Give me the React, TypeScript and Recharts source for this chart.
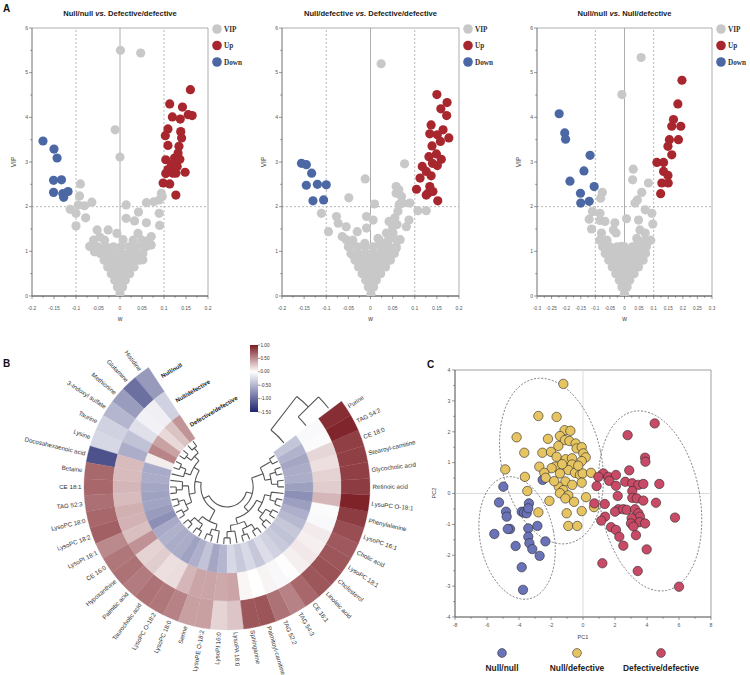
import React from 'react';
import {
  ScatterChart,
  Scatter,
  XAxis,
  YAxis,
  ReferenceLine,
  ReferenceArea,
  ReferenceDot,
  PieChart,
  Pie,
  Cell,
  Customized,
} from 'recharts';

const SANS = '"Liberation Sans", Arial, sans-serif';
const SERIF = '"Liberation Serif", "Times New Roman", serif';

const GRAY = '#c8c8c8';
const RED = '#a8262e';
const BLUE = '#4c68a4';

// ---------- Panel A: [w, VIP] ----------
const grayA1 = [
  [0.001, 5.5], [0.047, 5.44], [-0.011, 3.72], [0, 3.11], [-0.09, 2.51], [-0.092, 2.24], [-0.064, 2.1],
  [-0.113, 1.94], [-0.1, 1.85], [-0.1, 1.57], [-0.078, 1.75], [-0.081, 2.02], [-0.052, 1.48], [-0.027, 1.48],
  [-0.046, 1.32], [0.014, 2.04], [0.014, 1.74], [0.033, 1.68], [0.042, 1.88], [0.06, 2.09], [0.077, 2.11],
  [0.089, 2.15], [0.096, 2.23], [0.094, 2.3], [0.089, 1.85], [0.09, 1.58], [0.06, 1.64], [0.041, 1.4],
  [0.071, 1.33], [-0.007, 1.4], [-0.069, 1.11], [-0.058, 0.99], [-0.042, 0.96], [-0.031, 1.07], [0.06, 1.11],
  [0.071, 1.14], [0.052, 0.81], [0.026, 1.11], [0.007, 1.26], [-0.095, 2.04],
  [0, 0.05], [-0.006, 0.2], [0.006, 0.2], [-0.012, 0.35], [0, 0.35], [0.012, 0.35], [-0.02, 0.5], [-0.006, 0.5],
  [0.008, 0.5], [0.022, 0.5], [-0.028, 0.65], [-0.012, 0.65], [0.004, 0.65], [0.018, 0.65], [0.032, 0.65],
  [-0.036, 0.8], [-0.02, 0.8], [-0.004, 0.8], [0.012, 0.8], [0.028, 0.8], [0.044, 0.8], [-0.045, 0.95],
  [-0.028, 0.95], [-0.012, 0.95], [0.004, 0.95], [0.02, 0.95], [0.036, 0.95], [0.052, 0.95], [-0.05, 1.1],
  [-0.032, 1.1], [-0.015, 1.1], [0.002, 1.1], [0.02, 1.1], [0.038, 1.1], [0.056, 1.1], [-0.06, 1.25],
  [-0.035, 1.25], [0.03, 1.25], [0.05, 1.25], [0.065, 1.25],
];
const upA1 = [
  [0.113, 4.3], [0.16, 4.62], [0.142, 4.23], [0.119, 4.01], [0.137, 3.96], [0.155, 4.06], [0.164, 4.04],
  [0.109, 3.74], [0.103, 3.59], [0.138, 3.68], [0.14, 3.54], [0.109, 3.37], [0.134, 3.35], [0.132, 3.2],
  [0.104, 3.05], [0.124, 3.09], [0.117, 2.94], [0.109, 2.83], [0.104, 2.74], [0.12, 2.75], [0.127, 2.75],
  [0.148, 2.77], [0.098, 2.53], [0.113, 2.51], [0.127, 2.26], [0.13, 2.9], [0.136, 3.06],
];
const downA1 = [
  [-0.175, 3.47], [-0.15, 3.29], [-0.143, 3.09], [-0.151, 2.59], [-0.133, 2.6], [-0.151, 2.32],
  [-0.128, 2.21], [-0.118, 2.34], [-0.13, 2.29],
];

const grayA2 = [
  [0.024, 5.2], [0.077, 2.96], [-0.012, 2.62], [-0.049, 2.2], [0.009, 2.06], [-0.111, 1.85], [-0.095, 1.44],
  [-0.077, 1.78], [-0.073, 1.63], [-0.055, 1.55], [-0.03, 1.44], [-0.009, 1.78], [0.006, 1.7], [-0.009, 1.52],
  [-0.013, 1.18], [-0.055, 1.26], [-0.047, 1.11], [-0.064, 1.33], [0.058, 2.45], [0.064, 2.38], [0.07, 2.23],
  [0.058, 2.3], [0.073, 2.08], [0.089, 2.08], [0.107, 1.91], [0.126, 1.91], [0.087, 1.7], [0.081, 1.55],
  [0.067, 1.26], [0.051, 1.41], [0.042, 1.67], [0.036, 1.41], [-0.04, 0.92], [0.024, 0.99], [-0.024, 0.73],
  [-0.009, 0.81], [0.013, 0.84], [0.047, 0.96], [0.058, 1.07], [0.017, 1.29], [0.028, 1.14],
  [0.06, 1.6], [0.055, 1.75], [0.062, 1.9], [0.065, 2.05], [0.05, 1.55], [0.045, 1.3],
  [0.001, 0.05], [-0.005, 0.2], [0.007, 0.2], [-0.011, 0.35], [0.001, 0.35], [0.013, 0.35], [-0.019, 0.5],
  [-0.005, 0.5], [0.009, 0.5], [0.023, 0.5], [-0.027, 0.65], [-0.011, 0.65], [0.005, 0.65], [0.02, 0.65],
  [0.034, 0.65], [-0.035, 0.8], [-0.019, 0.8], [-0.003, 0.8], [0.013, 0.8], [0.029, 0.8], [0.045, 0.8],
  [-0.044, 0.95], [-0.027, 0.95], [-0.01, 0.95], [0.006, 0.95], [0.022, 0.95], [0.038, 0.95], [0.054, 0.95],
  [-0.05, 1.1], [-0.03, 1.1], [-0.012, 1.1], [0.006, 1.1], [0.024, 1.1], [0.042, 1.1], [0.058, 1.1],
  [-0.04, 1.25], [0.02, 1.25], [0.04, 1.25], [0.06, 1.25], [0.045, 1.35],
];
const upA2 = [
  [0.15, 4.51], [0.173, 4.33], [0.159, 4.19], [0.172, 4.04], [0.137, 3.83], [0.164, 3.72], [0.134, 3.63],
  [0.151, 3.61], [0.177, 3.54], [0.158, 3.46], [0.139, 3.36], [0.149, 3.18], [0.132, 3.12], [0.16, 3.06],
  [0.14, 2.97], [0.151, 2.92], [0.117, 2.9], [0.126, 2.79], [0.137, 2.69], [0.112, 2.64], [0.134, 2.45],
  [0.13, 2.3], [0.141, 2.34], [0.104, 2.39], [0.152, 2.13], [0.126, 2.26],
];
const downA2 = [
  [-0.156, 2.97], [-0.145, 2.94], [-0.133, 2.75], [-0.145, 2.48], [-0.12, 2.5], [-0.1, 2.49],
  [-0.13, 2.13], [-0.106, 2.15],
];

const grayA3 = [
  [0.057, 5.34], [-0.009, 4.51], [0.03, 2.84], [0.028, 2.6], [0.082, 2.53], [0.059, 2.32], [0.044, 2.15],
  [0.036, 2.08], [0.071, 1.93], [0.094, 1.85], [0.097, 1.61], [0.007, 1.73], [0.048, 1.7], [0.053, 1.48],
  [0.071, 1.41], [0.076, 1.18], [0.042, 1.29], [-0.076, 2.32], [-0.082, 2.19], [-0.11, 1.89], [-0.084, 1.85],
  [-0.121, 1.72], [-0.084, 1.69], [-0.067, 1.67], [-0.113, 1.5], [-0.079, 1.41], [-0.033, 1.64],
  [-0.038, 1.48], [-0.029, 1.41], [-0.056, 1.03], [-0.064, 1.22], [-0.027, 0.88], [-0.01, 1.11],
  [0.002, 1.07], [0.019, 0.96], [0.036, 0.81],
  [0, 0.05], [-0.009, 0.2], [0.009, 0.2], [-0.018, 0.35], [0, 0.35], [0.018, 0.35], [-0.03, 0.5],
  [-0.009, 0.5], [0.012, 0.5], [0.033, 0.5], [-0.042, 0.65], [-0.018, 0.65], [0.006, 0.65], [0.027, 0.65],
  [0.048, 0.65], [-0.054, 0.8], [-0.03, 0.8], [-0.006, 0.8], [0.018, 0.8], [0.042, 0.8], [0.064, 0.8],
  [-0.066, 0.95], [-0.042, 0.95], [-0.018, 0.95], [0.006, 0.95], [0.03, 0.95], [0.052, 0.95], [0.072, 0.95],
  [-0.075, 1.1], [-0.05, 1.1], [-0.025, 1.1], [0, 1.1], [0.028, 1.1], [0.052, 1.1], [0.075, 1.1],
  [-0.085, 1.25], [-0.06, 1.25], [0.045, 1.25], [0.07, 1.25], [0.09, 1.25],
];
const upA3 = [
  [0.197, 4.83], [0.183, 4.3], [0.168, 3.95], [0.162, 3.8], [0.193, 3.8], [0.154, 3.5], [0.185, 3.5],
  [0.149, 3.35], [0.162, 3.16], [0.111, 2.99], [0.134, 2.99], [0.134, 2.79], [0.149, 2.7], [0.128, 2.53],
  [0.15, 2.53], [0.124, 2.29],
];
const downA3 = [
  [-0.224, 4.08], [-0.205, 3.65], [-0.202, 3.51], [-0.118, 3.15], [-0.139, 2.8], [-0.187, 2.57],
  [-0.104, 2.45], [-0.151, 2.3], [-0.15, 2.08], [-0.121, 2.12],
];

const vipMajor = [0, 1, 2, 3, 4, 5, 6];
const vipMinor = [0.5, 1.5, 2.5, 3.5, 4.5, 5.5];
const wMajor02 = [-0.2, -0.15, -0.1, -0.05, 0, 0.05, 0.1, 0.15, 0.2];
const wMinor02 = [-0.175, -0.125, -0.075, -0.025, 0.025, 0.075, 0.125, 0.175];
const wMajor03 = [-0.3, -0.25, -0.2, -0.15, -0.1, -0.05, 0, 0.05, 0.1, 0.15, 0.2, 0.25, 0.3];
const wMinor03 = [-0.275, -0.225, -0.175, -0.125, -0.075, -0.025, 0.025, 0.075, 0.125, 0.175, 0.225, 0.275];
const volcanoLegend = [
  { label: 'VIP', color: GRAY },
  { label: 'Up', color: RED },
  { label: 'Down', color: BLUE },
];

// ---------- Panel B: circular heatmap ----------
const metabolites = [
  'Histidine', 'Glutamine', 'Methionine', '3-Indoxyl sulfate', 'Taurine', 'Lysine', 'Docosahexaenoic acid',
  'Betaine', 'CE 18:1', 'TAG 52:3', 'LysoPC 18:0', 'LysoPC 18:2', 'LysoPI 18:1', 'CE 16:0', 'Hypoxanthine',
  'Palmitic acid', 'Taurocholic acid', 'LysoPC O-18:2', 'LysoPC 18:0', 'Serine', 'LysoPE O-18:2',
  'LysoPI 16:0', 'LysoPA 18:0', 'Sphinganine', 'Palmitoyl-carnitine', 'TAG 52:2', 'TAG 54:3', 'CE 16:1',
  'Linoleic acid', 'Cholesterol', 'LysoPC 18:1', 'Cholic acid', 'LysoPC 16:1', 'Phenylalanine',
  'LysoPC O-18:1', 'Retinoic acid', 'Glycocholic acid', 'Stearoyl-carnitine', 'CE 18:0', 'TAG 54:2', 'Purine',
];
const hmNullNull = [
  -0.69, -0.98, -0.68, -0.5, -0.31, -0.27, -1.19, 0.66, 0.67, 0.63, 0.67, 0.7, 0.52, 0.6, 0.62, 0.58, 0.62,
  0.6, 0.55, 0.42, 0.42, 0.19, 0.26, 0.74, 0.75, 0.62, 0.55, 0.67, 0.74, 0.76, 0.74, 0.73, 0.78, 0.86, 0.97,
  0.86, 0.84, 0.84, 0.84, 0.96, 0.92,
];
const hmNullDefective = [
  -0.31, -0.11, -0.09, -0.21, -0.42, -0.56, 0.3, 0.3, 0.32, 0.3, 0.35, 0.34, 0.28, 0.48, 0.2, 0.22, 0.14,
  0.15, 0.32, 0.4, 0.4, 0.38, 0.4, 0.04, 0, 0.05, -0.05, 0.01, 0.07, 0.1, 0.07, 0.09, -0.04, -0.03, 0.32,
  0.22, 0.2, 0.14, 0.18, -0.03, -0.04,
];
const hmDefectiveDefective = [
  0.47, 0.27, 0.17, 0.41, 0.54, 0.08, -0.58, -0.57, -0.61, -0.64, -0.62, -0.68, -0.76, -0.58, -0.53, -0.57,
  -0.57, -0.64, -0.54, -0.41, -0.61, -0.5, -0.27, -0.37, -0.26, -0.38, -0.23, -0.31, -0.37, -0.42, -0.38,
  -0.48, -0.54, -0.66, -0.76, -0.65, -0.56, -0.57, -0.61, -0.52, -0.4,
];
const groups = ['Null/null', 'Null/defective', 'Defective/defective'];
const colorbarTicks = [1, 0.5, 0, -0.5, -1, -1.5];

// row dendrogram (leaf = metabolite index) and column dendrogram (leaf = group index)
const rowTree = [
  [
    [
      [[[0, 1], [2, 3]], [[4, 5], 6]],
      [[7, [8, 9]], [[10, 11], [12, 13]]],
    ],
    [[[14, 15], [16, 17]], [[18, 19], 20]],
  ],
  [
    [
      [[[21, 22], 23], [[24, 25], [26, 27]]],
      [[[28, 29], [30, 31]], [[32, 33], 34]],
    ],
    [[[35, 36], [37, 38]], [39, 40]],
  ],
];
const colTree = [[0, 1], 2];

// ---------- Panel C: PCA ----------
const pcaNullNull = [
  [-4.98, 0.22], [-5.25, -0.29], [-4.81, -0.59], [-4.77, -0.75], [-4.56, -1.15], [-5.54, -1.31], [-4.21, -1.7],
  [-3.83, -0.59], [-3.69, -0.62], [-3.52, -0.64], [-3.38, -0.32], [-3.42, -0.48], [-2.52, 0.44], [-3.42, -1.13],
  [-2.85, -1.05], [-3.42, -1.4], [-3.35, -1.61], [-3.17, -1.8], [-2.71, -2.02], [-2.35, -1.55], [-3.83, -2.39],
  [-3.75, -3.12], [-4.7, -1.15],
];
const pcaNullDefective = [
  [-1.23, 3.55], [-2.79, 2.51], [-1.65, 2.48], [-1.15, 2.05], [-0.79, 2.03], [-4.15, 1.82], [-2.19, 1.77],
  [-1.44, 1.86], [-1.13, 1.73], [-0.85, 1.7], [-0.46, 1.62], [-1.54, 1.54], [-0.4, 1.46], [-0.08, 1.5],
  [-3.67, 1.32], [-2.54, 1.32], [-2.0, 1.35], [-1.65, 1.19], [-1.08, 1.11], [-0.69, 1.14], [0.02, 1.3],
  [0.17, 1.17], [-0.08, 1.05], [-2.73, 0.87], [-1.75, 0.87], [-0.69, 0.94], [-1.96, 0.82], [-2.42, 0.67],
  [-0.92, 0.76], [-0.5, 0.67], [-1.44, 0.65], [-0.19, 0.6], [-0.02, 0.65], [0.5, 0.67], [-4.86, 0.78],
  [-3.63, 0.54], [-2.33, 0.51], [-1.1, 0.39], [-0.08, 0.35], [-0.67, 0.28], [-1.52, 0.22], [-1.23, 0.11],
  [-1.44, 0.01], [-0.92, -0.06], [-1.1, -0.16], [-0.56, -0.27], [0.19, -0.12], [-2.1, -0.24], [-3.48, 0.08],
  [-2.79, -0.61], [-1.02, -0.64], [-0.08, -0.57], [0.69, -0.44], [-0.92, -1.05], [-0.36, -1.05],
  [-1.3, 0.95], [-0.3, 0.9], [-1.8, 0.4],
];
const pcaDefectiveDefective = [
  [4.48, 2.27], [2.79, 1.89], [3.88, 1.16], [3.9, 1.03], [2.89, 0.75], [1.27, 0.65], [1.58, 0.54], [2.06, 0.6],
  [0.96, 0.54], [1.64, 0.41], [2.06, 0.25], [2.64, 0.38], [3.08, 0.33], [3.46, 0.28], [3.77, 0.31],
  [4.77, 0.31], [0.85, 0.24], [3.08, 0.08], [2.17, -0.08], [3.08, -0.14], [3.36, -0.16], [3.77, -0.23],
  [4.56, -0.3], [0.71, -0.32], [1.36, -0.34], [2.21, -0.51], [2.0, -0.59], [2.52, -0.51], [2.73, -0.53],
  [3.25, -0.51], [3.46, -0.64], [3.56, -0.75], [3.04, -0.8], [3.52, -0.93], [3.88, -0.97], [3.0, -0.97],
  [3.15, -1.07], [1.38, -0.75], [1.14, -0.88], [1.75, -1.09], [2.06, -1.18], [2.27, -1.4], [5.75, -0.78],
  [3.31, -1.35], [2.52, -1.69], [3.98, -1.81], [1.21, -2.26], [3.42, -2.51], [6.0, -3.02],
];
const pcaEllipseCenters = [
  { group: 'Null/null', x: -4.12, y: -1.44 },
  { group: 'Null/defective', x: -1.97, y: 1.05 },
  { group: 'Defective/defective', x: 4.19, y: -0.24 },
];
const pc1Major = [-8, -6, -4, -2, 0, 2, 4, 6, 8];
const pc1Minor = [-7, -5, -3, -1, 1, 3, 5, 7];
const pc2Major = [-4, -3, -2, -1, 0, 1, 2, 3, 4];
const pc2Minor = [-3.5, -2.5, -1.5, -0.5, 0.5, 1.5, 2.5, 3.5];

// styling that is not data
const PCA_COLORS = { 'Null/null': '#6a72b8', 'Null/defective': '#e7c462', 'Defective/defective': '#c94a66' };
const ELLIPSE_PX = {
  'Null/null': { rx: 37, ry: 62, rot: -11 },
  'Null/defective': { rx: 50, ry: 84, rot: -12 },
  'Defective/defective': { rx: 50, ry: 91, rot: -10 },
};

const toPts = (arr: number[][]) => arr.map(([x, y]) => ({ x, y }));
const sortTicks = (a: number[], b: number[]) => [...a, ...b].sort((p, q) => p - q);
const has = (list: number[], v: number) => list.some((m) => Math.abs(m - v) < 1e-6);

const BottomTick = ({ x, y, payload, majors, fontSize, labelDy }: any) => {
  const major = has(majors, payload.value);
  return (
    <g>
      <line x1={x} x2={x} y1={y} y2={y + (major ? 3 : 1.8)} stroke="#555" strokeWidth={0.6} />
      {major && (
        <text x={x} y={y + labelDy} textAnchor="middle" fontSize={fontSize} fill="#555" fontFamily={SANS}>
          {String(payload.value)}
        </text>
      )}
    </g>
  );
};

const LeftTick = ({ x, y, payload, majors, fontSize, labelDx }: any) => {
  const major = has(majors, payload.value);
  return (
    <g>
      <line x1={x} x2={x - (major ? 3 : 1.8)} y1={y} y2={y} stroke="#555" strokeWidth={0.6} />
      {major && (
        <text x={x - labelDx} y={y} dy="0.35em" textAnchor="end" fontSize={fontSize} fill="#555" fontFamily={SANS}>
          {String(payload.value)}
        </text>
      )}
    </g>
  );
};

const dot = (r: number, fill: string, stroke = 'none', sw = 0) => (p: any) => (
  <circle cx={p.cx} cy={p.cy} r={r} fill={fill} stroke={stroke} strokeWidth={sw} />
);

function Volcano({ left, letter, titleA, titleB, gray, up, down, wMax, wMajor, wMinor, plotLeft, plotRight }: any) {
  const W = 250;
  const H = 330;
  const top = 28;
  const bottom = 296;
  const yw = 22;
  const xh = 16;
  const mid = (plotLeft + plotRight) / 2;
  const overlay = () => (
    <g fontFamily={SANS}>
      {letter && (
        <text x={3} y={12} fontSize={10} fontWeight="bold" fill="#111">
          {letter}
        </text>
      )}
      <text x={mid} y={16} textAnchor="middle" fontSize={7.6} fontWeight="bold" fill="#222">
        {titleA} <tspan fontStyle="italic">vs.</tspan> {titleB}
      </text>
      {volcanoLegend.map((it, i) => (
        <g key={it.label}>
          <circle cx={plotRight + 9} cy={29 + i * 16.5} r={4.8} fill={it.color} />
          <text x={plotRight + 16} y={29 + i * 16.5} dy="0.35em" fontSize={7.2} fontWeight="bold" fontFamily={SERIF} fill="#333">
            {it.label}
          </text>
        </g>
      ))}
      <text x={plotLeft - 16} y={(top + bottom) / 2} textAnchor="middle" fontSize={6.5} fill="#444" transform={`rotate(-90, ${plotLeft - 16}, ${(top + bottom) / 2})`}>
        VIP
      </text>
      <text x={mid} y={321} textAnchor="middle" fontSize={6.5} fill="#444">
        w
      </text>
    </g>
  );
  return (
    <div style={{ position: 'absolute', left, top: 0 }}>
      <ScatterChart
        width={W}
        height={H}
        margin={{ top, left: plotLeft - yw, right: W - plotRight, bottom: H - bottom - xh }}
      >
        <XAxis
          type="number"
          dataKey="x"
          domain={[-wMax, wMax]}
          ticks={sortTicks(wMajor, wMinor)}
          interval={0}
          tickSize={0}
          tickMargin={0}
          tickLine={false}
          axisLine={{ stroke: '#555', strokeWidth: 1 }}
          height={xh}
          allowDataOverflow
          tick={(p: any) => <BottomTick {...p} majors={wMajor} fontSize={wMax > 0.25 ? 4.6 : 5} labelDy={13.5} />}
        />
        <YAxis
          type="number"
          dataKey="y"
          domain={[0, 6]}
          ticks={sortTicks(vipMajor, vipMinor)}
          interval={0}
          tickSize={0}
          tickMargin={0}
          tickLine={false}
          axisLine={{ stroke: '#888', strokeWidth: 0.8 }}
          width={yw}
          allowDataOverflow
          tick={(p: any) => <LeftTick {...p} majors={vipMajor} fontSize={5} labelDx={4} />}
        />
        <ReferenceArea x1={-wMax} x2={wMax} y1={0} y2={6} fill="none" stroke="#999" strokeWidth={0.8} ifOverflow="visible" />
        <ReferenceLine x={0} stroke="#999" strokeWidth={0.8} />
        <ReferenceLine x={-0.1} stroke="#999" strokeWidth={0.7} strokeDasharray="2 2" />
        <ReferenceLine x={0.1} stroke="#999" strokeWidth={0.7} strokeDasharray="2 2" />
        <ReferenceLine y={2} stroke="#999" strokeWidth={0.7} strokeDasharray="2 2" />
        <Scatter data={toPts(gray)} isAnimationActive={false} shape={dot(4.6, GRAY)} />
        <Scatter data={toPts(up)} isAnimationActive={false} shape={dot(4.6, RED)} />
        <Scatter data={toPts(down)} isAnimationActive={false} shape={dot(4.6, BLUE)} />
        <Customized component={overlay} />
      </ScatterChart>
    </div>
  );
}

// ---------- heatmap geometry ----------
const CX = 227;
const CY = 157;
const START = 123.3;
const END = 396.8;
const STEP = (END - START) / metabolites.length;
const RING_RADII = [
  [114, 143],
  [86, 114],
  [58, 86],
];
const LEAF_R = 57;
const ROOT_R = 20;
const RAD = Math.PI / 180;

const RED_END = [123, 28, 34];
const NAVY_END = [30, 36, 110];
const mix = (end: number[], t: number) => {
  const c = end.map((e) => Math.round(255 + (e - 255) * Math.max(0, Math.min(1, t))));
  return `rgb(${c[0]},${c[1]},${c[2]})`;
};
const heatColor = (v: number) => (v >= 0 ? mix(RED_END, v / 1) : mix(NAVY_END, -v / 1.5));

const polar = (r: number, a: number) => [CX + r * Math.cos(a * RAD), CY - r * Math.sin(a * RAD)];
const arcPath = (r: number, a1: number, a2: number) => {
  const [x1, y1] = polar(r, a1);
  const [x2, y2] = polar(r, a2);
  return `M${x1},${y1}A${r},${r} 0 ${a2 - a1 > 180 ? 1 : 0} 0 ${x2},${y2}`;
};
const radialPath = (a: number, r1: number, r2: number) => {
  const [x1, y1] = polar(r1, a);
  const [x2, y2] = polar(r2, a);
  return `M${x1},${y1}L${x2},${y2}`;
};
const treeHeight = (n: any): number => (typeof n === 'number' ? 0 : 1 + Math.max(...n.map(treeHeight)));

function layoutRow(node: any, segs: string[], step: number): { a: number; r: number } {
  if (typeof node === 'number') return { a: START + (node + 0.5) * STEP, r: LEAF_R };
  const kids = node.map((k: any) => layoutRow(k, segs, step));
  const r = LEAF_R - treeHeight(node) * step;
  kids.forEach((k: any) => segs.push(radialPath(k.a, k.r, r)));
  const a1 = Math.min(...kids.map((k: any) => k.a));
  const a2 = Math.max(...kids.map((k: any) => k.a));
  segs.push(arcPath(r, a1, a2));
  return { a: (a1 + a2) / 2, r };
}

function layoutCol(node: any, segs: string[]): { a: number; r: number } {
  if (typeof node === 'number') {
    const [ri, ro] = RING_RADII[node];
    return { a: END + 1, r: (ri + ro) / 2 };
  }
  const kids = node.map((k: any) => layoutCol(k, segs));
  const a = END + treeHeight(node) * 7.8;
  kids.forEach((k: any) => segs.push(arcPath(k.r, k.a, a)));
  const r1 = Math.min(...kids.map((k: any) => k.r));
  const r2 = Math.max(...kids.map((k: any) => k.r));
  segs.push(radialPath(a, r1, r2));
  return { a, r: (r1 + r2) / 2 };
}

const renderMetaboliteLabel = (p: any) => {
  const a = p.midAngle;
  const norm = ((a % 360) + 360) % 360;
  const [x, y] = polar(p.outerRadius + 2.5, a);
  const leftSide = norm > 90 && norm < 270;
  const rot = leftSide ? 180 - norm : -norm;
  return (
    <text
      key={`lbl-${p.index}`}
      x={x}
      y={y}
      dy="0.35em"
      textAnchor={leftSide ? 'end' : 'start'}
      transform={`rotate(${rot}, ${x}, ${y})`}
      fontSize={6.2}
      fill="#333"
      fontFamily={SANS}
    >
      {metabolites[p.index]}
    </text>
  );
};

const HeatmapOverlay = () => {
  const rowSegs: string[] = [];
  layoutRow(rowTree, rowSegs, (LEAF_R - ROOT_R) / treeHeight(rowTree));
  const colSegs: string[] = [];
  layoutCol(colTree, colSegs);
  const barX = 250;
  const barY = 15;
  const barH = 67;
  const vMax = colorbarTicks[0];
  const vMin = colorbarTicks[colorbarTicks.length - 1];
  const toBarY = (v: number) => barY + ((vMax - v) / (vMax - vMin)) * barH;
  const labelA = START - 2.6;
  return (
    <g fontFamily={SANS}>
      <text x={3} y={37} fontSize={10} fontWeight="bold" fill="#111">
        B
      </text>
      <path d={rowSegs.join('')} fill="none" stroke="#555" strokeWidth={1.1} />
      <path d={colSegs.join('')} fill="none" stroke="#555" strokeWidth={1.1} />
      {groups.map((g, i) => {
        const [ri, ro] = RING_RADII[i];
        const [x, y] = polar((ri + ro) / 2, labelA);
        return (
          <text
            key={g}
            x={x}
            y={y}
            dy="0.35em"
            fontSize={6}
            fontWeight="bold"
            fill="#222"
            transform={`rotate(${-(labelA - 90)}, ${x}, ${y})`}
          >
            {g}
          </text>
        );
      })}
      <defs>
        <linearGradient id="hmBar" x1="0" y1="0" x2="0" y2="1">
          {colorbarTicks.map((v) => (
            <stop key={v} offset={`${((vMax - v) / (vMax - vMin)) * 100}%`} stopColor={heatColor(v)} />
          ))}
        </linearGradient>
      </defs>
      <rect x={barX} y={barY} width={8} height={barH} fill="url(#hmBar)" />
      {colorbarTicks.map((v) => (
        <g key={v}>
          <line x1={barX + 8} x2={barX + 10} y1={toBarY(v)} y2={toBarY(v)} stroke="#333" strokeWidth={0.5} />
          <text x={barX + 10.5} y={toBarY(v)} dy="0.35em" fontSize={4.6} fill="#333">
            {v.toFixed(2)}
          </text>
        </g>
      ))}
    </g>
  );
};

function Heatmap() {
  const pieData = metabolites.map((name) => ({ name, value: 1 }));
  const rings = [hmNullNull, hmNullDefective, hmDefectiveDefective];
  return (
    <div style={{ position: 'absolute', left: 0, top: 330 }}>
      <PieChart width={420} height={345} margin={{ top: 0, right: 0, bottom: 0, left: 0 }}>
        {rings.map((vals, ri) => (
          <Pie
            key={groups[ri]}
            data={pieData}
            dataKey="value"
            nameKey="name"
            cx={CX}
            cy={CY}
            startAngle={START}
            endAngle={END}
            innerRadius={RING_RADII[ri][0]}
            outerRadius={RING_RADII[ri][1]}
            paddingAngle={0}
            isAnimationActive={false}
            label={ri === 0 ? renderMetaboliteLabel : false}
            labelLine={false}
          >
            {vals.map((v, i) => (
              <Cell key={i} fill={heatColor(v)} stroke={heatColor(v)} strokeWidth={0.3} />
            ))}
          </Pie>
        ))}
        <Customized component={HeatmapOverlay} />
      </PieChart>
    </div>
  );
}

function Pca() {
  const W = 340;
  const H = 330;
  const plotLeft = 45;
  const plotRight = 301;
  const top = 25;
  const bottom = 272;
  const yw = 20;
  const xh = 16;
  const series = [pcaNullNull, pcaNullDefective, pcaDefectiveDefective];
  const legendX = [92, 167, 251];
  const overlay = () => (
    <g fontFamily={SANS}>
      <text x={17} y={23} fontSize={10} fontWeight="bold" fill="#111">
        C
      </text>
      <text x={(plotLeft + plotRight) / 2} y={294} textAnchor="middle" fontSize={5.6} fill="#444">
        PC1
      </text>
      <text x={26} y={148} textAnchor="middle" fontSize={5.6} fill="#444" transform="rotate(-90, 26, 148)">
        PC2
      </text>
      {groups.map((g, i) => (
        <g key={g}>
          <circle cx={legendX[i]} cy={308} r={4.4} fill={PCA_COLORS[g]} stroke="#333" strokeWidth={0.6} />
          <text x={legendX[i]} y={326} textAnchor="middle" fontSize={8.4} fontWeight="bold" fill="#222">
            {g}
          </text>
        </g>
      ))}
    </g>
  );
  return (
    <div style={{ position: 'absolute', left: 410, top: 345 }}>
      <ScatterChart
        width={W}
        height={H}
        margin={{ top, left: plotLeft - yw, right: W - plotRight, bottom: H - bottom - xh }}
      >
        <XAxis
          type="number"
          dataKey="x"
          domain={[-8, 8]}
          ticks={sortTicks(pc1Major, pc1Minor)}
          interval={0}
          tickSize={0}
          tickMargin={0}
          tickLine={false}
          axisLine={{ stroke: '#666', strokeWidth: 0.8 }}
          height={xh}
          allowDataOverflow
          tick={(p: any) => <BottomTick {...p} majors={pc1Major} fontSize={5.2} labelDy={9.5} />}
        />
        <YAxis
          type="number"
          dataKey="y"
          domain={[-4, 4]}
          ticks={sortTicks(pc2Major, pc2Minor)}
          interval={0}
          tickSize={0}
          tickMargin={0}
          tickLine={false}
          axisLine={{ stroke: '#666', strokeWidth: 0.8 }}
          width={yw}
          allowDataOverflow
          tick={(p: any) => <LeftTick {...p} majors={pc2Major} fontSize={5.2} labelDx={4.5} />}
        />
        <ReferenceArea x1={-8} x2={8} y1={-4} y2={4} fill="none" stroke="#888" strokeWidth={0.8} ifOverflow="visible" />
        <ReferenceLine x={0} stroke="#dcdcdc" strokeWidth={1} />
        <ReferenceLine y={0} stroke="#dcdcdc" strokeWidth={1} />
        {pcaEllipseCenters.map((e) => (
          <ReferenceDot
            key={e.group}
            x={e.x}
            y={e.y}
            r={1}
            ifOverflow="visible"
            shape={(p: any) => (
              <ellipse
                cx={p.cx}
                cy={p.cy}
                rx={ELLIPSE_PX[e.group].rx}
                ry={ELLIPSE_PX[e.group].ry}
                transform={`rotate(${ELLIPSE_PX[e.group].rot}, ${p.cx}, ${p.cy})`}
                fill="none"
                stroke="#555"
                strokeWidth={0.7}
                strokeDasharray="2 1.6"
              />
            )}
          />
        ))}
        {series.map((s, i) => (
          <Scatter
            key={groups[i]}
            data={toPts(s)}
            isAnimationActive={false}
            shape={dot(4.7, PCA_COLORS[groups[i]], '#2a2a2a', 0.6)}
          />
        ))}
        <Customized component={overlay} />
      </ScatterChart>
    </div>
  );
}

export default function App() {
  return (
    <div style={{ position: 'absolute', left: 0, top: 0, width: 750, height: 675, background: '#fff', overflow: 'hidden' }}>
      <Volcano
        left={0}
        letter="A"
        titleA="Null/null"
        titleB="Defective/defective"
        gray={grayA1}
        up={upA1}
        down={downA1}
        wMax={0.2}
        wMajor={wMajor02}
        wMinor={wMinor02}
        plotLeft={32}
        plotRight={208}
      />
      <Volcano
        left={250}
        titleA="Null/defective"
        titleB="Defective/defective"
        gray={grayA2}
        up={upA2}
        down={downA2}
        wMax={0.2}
        wMajor={wMajor02}
        wMinor={wMinor02}
        plotLeft={32}
        plotRight={209}
      />
      <Volcano
        left={500}
        titleA="Null/null"
        titleB="Null/defective"
        gray={grayA3}
        up={upA3}
        down={downA3}
        wMax={0.3}
        wMajor={wMajor03}
        wMinor={wMinor03}
        plotLeft={37}
        plotRight={212}
      />
      <Heatmap />
      <Pca />
    </div>
  );
}
